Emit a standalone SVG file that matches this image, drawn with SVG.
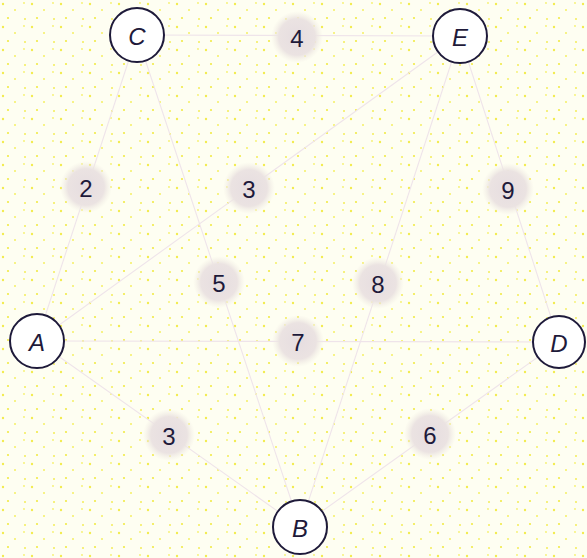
<svg xmlns="http://www.w3.org/2000/svg" width="587" height="558" viewBox="0 0 587 558">
<defs>
<radialGradient id="blob">
<stop offset="0" stop-color="#e6dde0"/>
<stop offset="0.7" stop-color="#ebe3e2"/>
<stop offset="1" stop-color="#f2eee4" stop-opacity="0"/>
</radialGradient>
<pattern id="speck" width="29" height="23" patternUnits="userSpaceOnUse">
<circle cx="3" cy="4" r="1.2" fill="#f2ec50"/>
<circle cx="15" cy="10" r="1" fill="#f4ef62"/>
<circle cx="8" cy="18" r="1.1" fill="#f1ea48"/>
<circle cx="24" cy="3" r="0.9" fill="#f5f06c"/>
<circle cx="25" cy="19" r="1" fill="#f3ed58"/>
</pattern>
<style>
.edge{stroke:#efe4ea;stroke-width:1.1;fill:none}
.node circle{fill:#ffffff;stroke:#1e1a3a;stroke-width:2}
.node text{font-family:"Liberation Sans",Arial,sans-serif;font-style:italic;font-size:24px;fill:#1e1a3a;text-anchor:middle;dominant-baseline:central}
.w circle{fill:url(#blob)}
.w text{font-family:"Liberation Sans",Arial,sans-serif;font-size:24px;fill:#1e1a3a;text-anchor:middle;dominant-baseline:central}
</style>
</defs>
<rect width="587" height="558" fill="#fefef2"/>
<rect width="587" height="558" fill="url(#speck)"/>
<g id="connectors">
<line class="edge" x1="137" y1="35" x2="37" y2="341"/>
<line class="edge" x1="137" y1="35" x2="460" y2="36"/>
<line class="edge" x1="137" y1="35" x2="300" y2="527"/>
<line class="edge" x1="460" y1="36" x2="37" y2="341"/>
<line class="edge" x1="460" y1="36" x2="300" y2="527"/>
<line class="edge" x1="460" y1="36" x2="559" y2="342"/>
<line class="edge" x1="37" y1="341" x2="559" y2="342"/>
<line class="edge" x1="37" y1="341" x2="300" y2="527"/>
<line class="edge" x1="300" y1="527" x2="559" y2="342"/>
</g>
<g id="w-CA" class="w"><circle cx="86" cy="187" r="26"/><text x="86" y="188">2</text></g>
<g id="w-CE" class="w"><circle cx="297" cy="37" r="26"/><text x="297" y="38">4</text></g>
<g id="w-CB" class="w"><circle cx="219" cy="282" r="26"/><text x="219" y="283">5</text></g>
<g id="w-EA" class="w"><circle cx="249" cy="188" r="26"/><text x="249" y="189">3</text></g>
<g id="w-EB" class="w"><circle cx="378" cy="283" r="26"/><text x="378" y="284">8</text></g>
<g id="w-ED" class="w"><circle cx="508" cy="189" r="26"/><text x="508" y="190">9</text></g>
<g id="w-AD" class="w"><circle cx="298" cy="341" r="26"/><text x="298" y="342">7</text></g>
<g id="w-AB" class="w"><circle cx="169" cy="435" r="26"/><text x="169" y="436">3</text></g>
<g id="w-BD" class="w"><circle cx="430" cy="434" r="26"/><text x="430" y="435">6</text></g>
<g id="node-C" class="node"><circle cx="137" cy="35" r="27"/><text x="137" y="36">C</text></g>
<g id="node-E" class="node"><circle cx="460" cy="36" r="27"/><text x="460" y="37">E</text></g>
<g id="node-A" class="node"><circle cx="37" cy="341" r="27"/><text x="37" y="342">A</text></g>
<g id="node-D" class="node"><circle cx="559" cy="342" r="26"/><text x="559" y="343">D</text></g>
<g id="node-B" class="node"><circle cx="300" cy="527" r="27"/><text x="300" y="528">B</text></g>
</svg>
